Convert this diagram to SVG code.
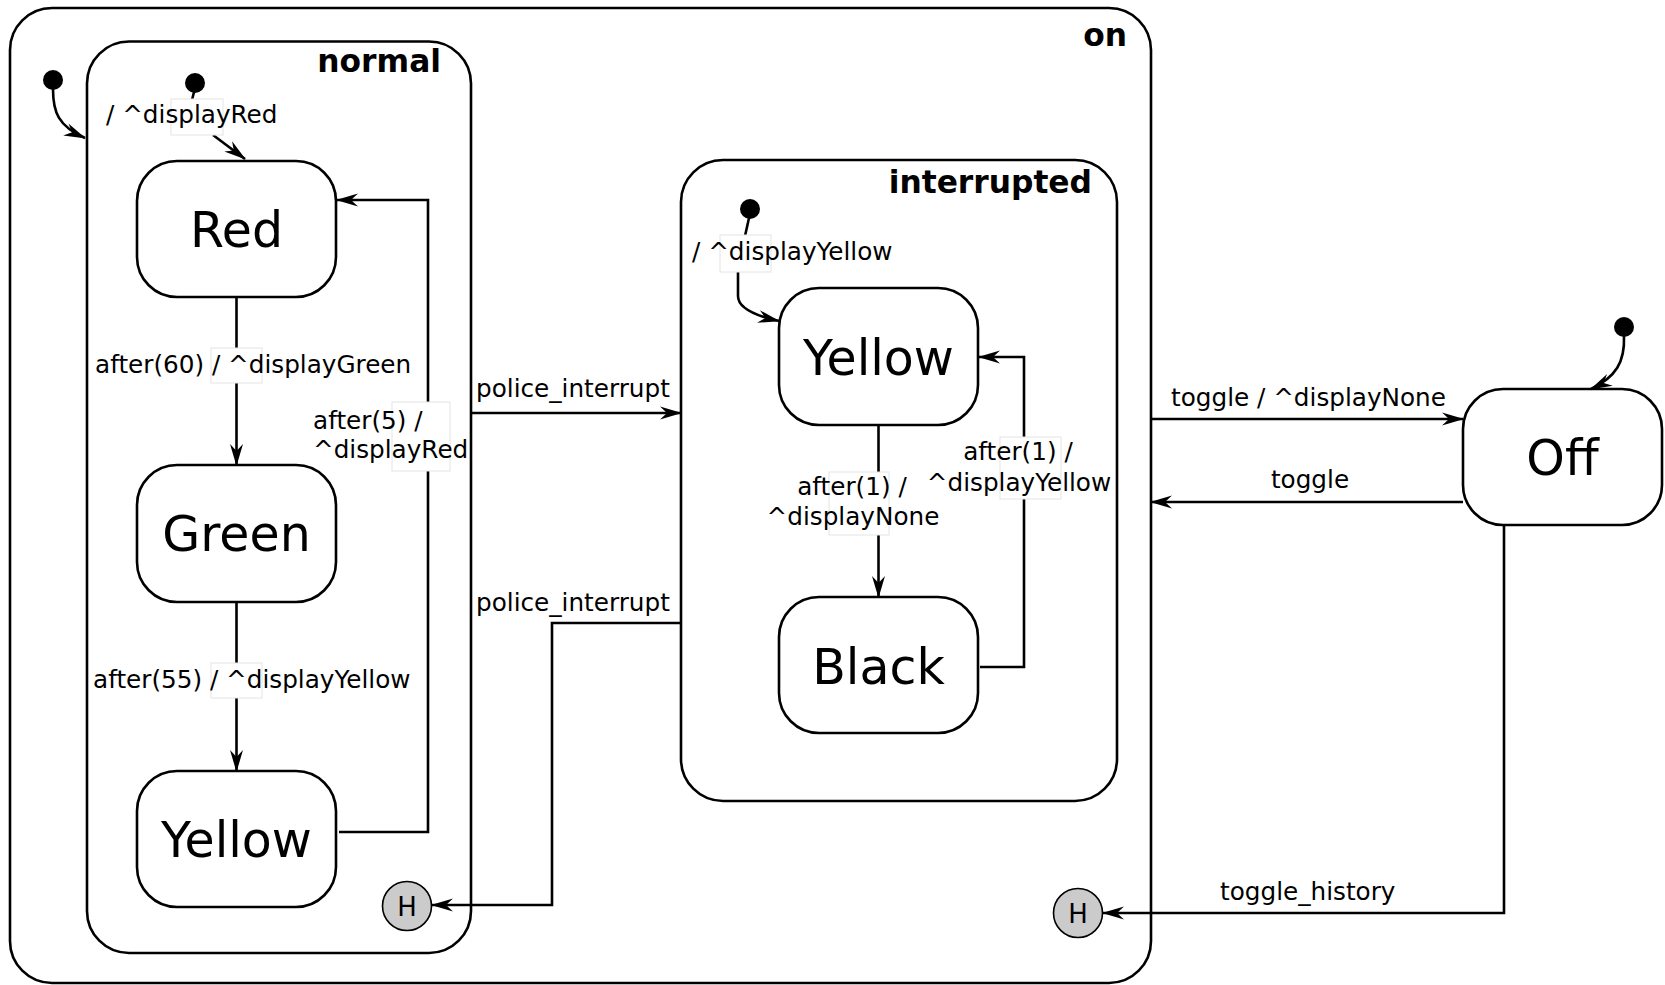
<svg xmlns="http://www.w3.org/2000/svg" width="1665" height="985" viewBox="0 0 1665 985">
<defs>
<marker id="arr" viewBox="0 0 22 14" refX="21" refY="7" markerWidth="22" markerHeight="14" markerUnits="userSpaceOnUse" orient="auto">
<path d="M0,0.5 L22,7 L0,13.5 L7,7 Z" fill="#000"/>
</marker>
<style>
.box{fill:#fff;stroke:#000;stroke-width:2.6}
.cont{fill:none;stroke:#000;stroke-width:2.6}
.title{font-family:"DejaVu Sans",Verdana,sans-serif;font-weight:bold;font-size:31.3px;fill:#000}
.name{font-family:"DejaVu Sans",Verdana,sans-serif;font-size:49px;fill:#000;text-anchor:middle}
.lbl{font-family:"DejaVu Sans",Verdana,sans-serif;font-size:24.7px;fill:#000}
.mid{text-anchor:middle}
.ln{fill:none;stroke:#000;stroke-width:2.6}
.arw{marker-end:url(#arr)}
.lb{fill:#fff;stroke:#e4e4e4;stroke-width:1}
.init{fill:#000}
.hist{fill:#cbcbcb;stroke:#000;stroke-width:1.6}
.h{font-family:"DejaVu Sans",Verdana,sans-serif;font-size:26px;fill:#000;text-anchor:middle}
</style>
</defs>
<rect width="1665" height="985" fill="#fff"/>

<g id="on">
<rect class="cont" x="10" y="8" width="1141" height="975" rx="42"/>
<text class="title" x="1127" y="46" text-anchor="end">on</text>
</g>
<g id="normal">
<rect class="cont" x="87" y="41.5" width="384" height="911.5" rx="42"/>
<text class="title" x="441" y="72" text-anchor="end">normal</text>
</g>
<g id="interrupted">
<rect class="cont" x="681" y="160" width="436" height="641" rx="42"/>
<text class="title" x="1092" y="193" text-anchor="end">interrupted</text>
</g>

<g id="init_on"><circle class="init" cx="53" cy="80" r="10"/></g>
<g id="init_normal"><circle class="init" cx="195" cy="83" r="10"/></g>
<g id="init_interrupted"><circle class="init" cx="750" cy="209" r="10"/></g>
<g id="init_off"><circle class="init" cx="1624" cy="327" r="10"/></g>

<g id="normal_red">
<rect class="box" x="137" y="161" width="199" height="136" rx="40"/>
<text class="name" x="236.5" y="247">Red</text>
</g>
<g id="normal_green">
<rect class="box" x="137" y="465" width="199" height="137" rx="40"/>
<text class="name" x="236.5" y="551">Green</text>
</g>
<g id="normal_yellow">
<rect class="box" x="137" y="771" width="199" height="136" rx="40"/>
<text class="name" x="236.5" y="857">Yellow</text>
</g>
<g id="normal_history">
<circle class="hist" cx="407" cy="906" r="24.5"/>
<text class="h" x="407" y="915.5">H</text>
</g>
<g id="interrupted_yellow">
<rect class="box" x="779" y="288" width="199" height="137" rx="40"/>
<text class="name" x="878.5" y="375">Yellow</text>
</g>
<g id="interrupted_black">
<rect class="box" x="779" y="597" width="199" height="136" rx="40"/>
<text class="name" x="878.5" y="684">Black</text>
</g>
<g id="off">
<rect class="box" x="1463" y="389" width="199" height="136" rx="40"/>
<text class="name" x="1562.5" y="475">Off</text>
</g>
<g id="on_history">
<circle class="hist" cx="1078" cy="913" r="24.5"/>
<text class="h" x="1078" y="922.5">H</text>
</g>

<g id="connectors">
<path class="ln arw" d="M53,89 C53,112 58,126 85,138"/>
<path class="ln" d="M194,92 L192,100"/>
<path class="ln arw" d="M213,135 L245,159"/>
<path class="ln" d="M749,218 L745,236"/>
<path class="ln arw" d="M738,272 L738,296 Q738,312 779,321"/>
<path class="ln arw" d="M1624,336 C1625,362 1616,377 1591,389"/>
<path class="ln arw" d="M236.5,297 L236.5,465"/>
<path class="ln arw" d="M236.5,602 L236.5,771"/>
<path class="ln arw" d="M339,832 L428,832 L428,200 L337,200"/>
<path class="ln arw" d="M878.5,425 L878.5,597"/>
<path class="ln arw" d="M980,667 L1024,667 L1024,357 L979,357"/>
<path class="ln arw" d="M471,413 L681,413"/>
<path class="ln arw" d="M681,623 L552,623 L552,905 L432,905"/>
<path class="ln arw" d="M1151,419 L1463,419"/>
<path class="ln arw" d="M1463,502 L1151,502"/>
<path class="ln arw" d="M1504,525 L1504,913 L1103,913"/>

<rect class="lb" x="171" y="99" width="52" height="36"/>
<rect class="lb" x="211" y="348" width="51" height="35"/>
<rect class="lb" x="211" y="663" width="51" height="35"/>
<rect class="lb" x="392" y="402" width="58" height="69"/>
<rect class="lb" x="720" y="235" width="51" height="37"/>
<rect class="lb" x="829" y="472" width="60" height="63"/>
<rect class="lb" x="1000" y="437" width="61" height="62"/>

<text class="lbl" x="106" y="123">/ ^displayRed</text>
<text class="lbl" x="95" y="373">after(60) / ^displayGreen</text>
<text class="lbl" x="93" y="688">after(55) / ^displayYellow</text>
<text class="lbl" x="313" y="429">after(5) /</text>
<text class="lbl" x="313" y="458">^displayRed</text>
<text class="lbl" x="476" y="397">police_interrupt</text>
<text class="lbl" x="476" y="611">police_interrupt</text>
<text class="lbl" x="692" y="260">/ ^displayYellow</text>
<text class="lbl mid" x="852" y="495">after(1) /</text>
<text class="lbl mid" x="853" y="525">^displayNone</text>
<text class="lbl mid" x="1018" y="460">after(1) /</text>
<text class="lbl mid" x="1019" y="491">^displayYellow</text>
<text class="lbl" x="1171" y="406">toggle / ^displayNone</text>
<text class="lbl mid" x="1310" y="488">toggle</text>
<text class="lbl" x="1220" y="900">toggle_history</text>
</g>
</svg>
